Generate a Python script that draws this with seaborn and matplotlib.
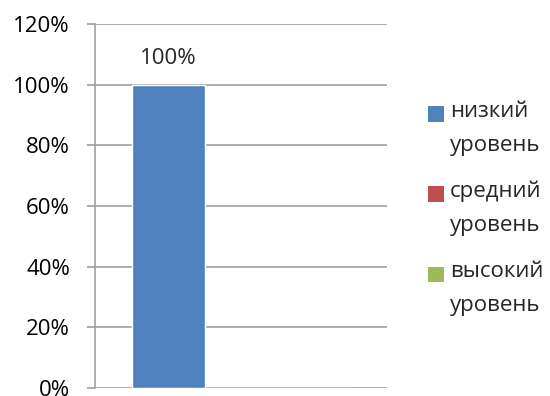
import matplotlib
matplotlib.use("Agg")
import matplotlib.pyplot as plt
import seaborn as sns
import pandas as pd
from matplotlib.ticker import FuncFormatter
from matplotlib.legend_handler import HandlerPatch
from matplotlib.patches import Rectangle

categories = ["1"]
levels = ["низкий\nуровень", "средний\nуровень", "высокий\nуровень"]
values = [1.0, 0.0, 0.0]
colors = ["#4F81BD", "#C0504D", "#9BBB59"]
yticks = [0, 0.2, 0.4, 0.6, 0.8, 1.0, 1.2]

df = pd.DataFrame({"cat": categories * len(levels), "level": levels, "value": values})

sns.set_theme(style="white")
plt.rcParams["font.family"] = ["Open Sans", "DejaVu Sans"]

fig = plt.figure(figsize=(5.5, 3.96), dpi=100)
ax = fig.add_axes([95/550, 1-388/396, (387-95)/550, (388-24)/396])

sns.barplot(data=df, x="cat", y="value", hue="level", hue_order=levels,
            palette=colors, width=0.75, ax=ax, saturation=1, legend=True)

ax.set_xlim(-0.5, 0.5)
ax.set_ylim(0, 1.2)
ax.set_yticks(yticks)
ax.yaxis.set_major_formatter(FuncFormatter(lambda v, p: f"{v*100:.0f}%"))
ax.set_xticks([])
ax.set_xlabel("")
ax.set_ylabel("")
ax.grid(axis="y", color="#A0A0A0", linewidth=1.2)
ax.set_axisbelow(True)
for s in ["top", "right", "bottom"]:
    ax.spines[s].set_visible(False)
ax.spines["left"].set_color("#A0A0A0")
ax.spines["left"].set_linewidth(1.2)
ax.tick_params(axis="y", length=6, width=1.2, color="#A0A0A0", pad=12,
               labelsize=16, labelcolor="black", left=True)

bar = ax.containers[0]
ax.bar_label(bar, labels=[f"{values[0]*100:.0f}%"], padding=11, fontsize=16)


def top_square(legend, orig_handle, xdescent, ydescent, width, height, fontsize):
    return Rectangle((-xdescent, -ydescent + 10.5), width, height)


handles, labels = ax.get_legend_handles_labels()
leg = ax.legend(handles, labels, loc="upper left", bbox_to_anchor=(428/550, 1-101/396),
                bbox_transform=fig.transFigure, frameon=False, fontsize=16,
                handlelength=0.7, handleheight=0.7, handletextpad=0.3,
                labelspacing=1.13, borderaxespad=0, borderpad=0,
                handler_map={h: HandlerPatch(patch_func=top_square) for h in handles})
for t in leg.get_texts():
    t.set_linespacing(1.8)
for h in leg.legend_handles:
    h.set_edgecolor("none")

fig.savefig("out.png", dpi=100)
